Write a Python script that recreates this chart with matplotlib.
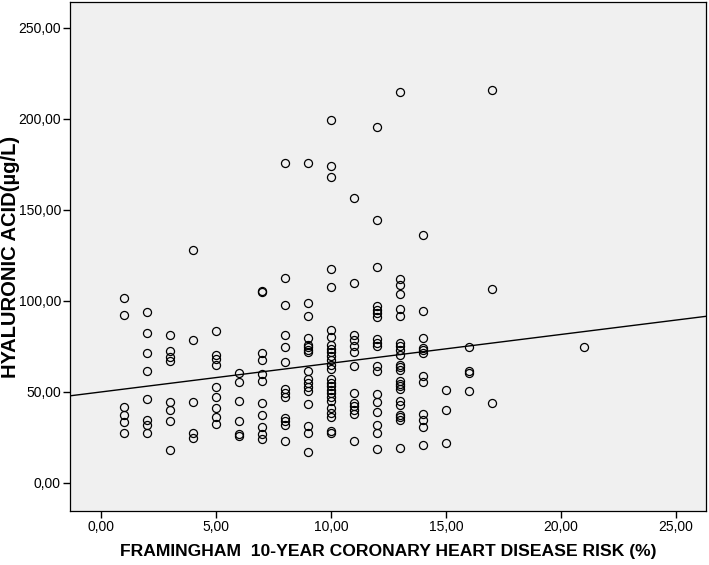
import matplotlib
matplotlib.use("Agg")
import matplotlib.pyplot as plt
import numpy as np

plt.rcParams['font.family'] = ['Liberation Sans', 'DejaVu Sans']

# risk (%) -> hyaluronic acid values, one list per risk value
risk_levels = [1, 2, 3, 4, 5, 6, 7, 8, 9, 10, 11, 12, 13, 14, 15, 16, 17, 21]
ha_values = [
    [101.7, 92.5, 41.5, 37.4, 33.4, 27.4],
    [93.8, 82.4, 71.4, 61.3, 46.3, 34.7, 31.6, 27.4],
    [81.5, 72.7, 69.0, 66.8, 44.4, 40.2, 34.1, 18.2],
    [127.9, 78.7, 44.4, 27.4, 24.6],
    [83.7, 70.5, 68.1, 64.6, 52.5, 47.5, 41.1, 36.2, 32.3],
    [60.4, 55.4, 45.2, 34.1, 26.8, 25.9],
    [105.7, 104.8, 71.4, 67.7, 59.9, 56.2, 44.2, 37.4, 31.0, 26.8, 24.2],
    [175.6, 112.7, 97.6, 81.5, 74.7, 66.5, 51.6, 49.7, 47.5, 35.6, 34.1, 31.9, 23.3],
    [175.6, 98.9, 91.6, 79.7, 76.0, 74.7, 73.2, 71.8, 61.3, 57.1, 54.9, 52.5, 50.3,
     43.3, 31.4, 27.4, 17.2],
    [199.5, 174.2, 168.3, 117.8, 107.8, 84.3, 80.0, 75.6, 73.6, 71.8, 69.6, 67.7,
     65.0, 62.6, 57.3, 54.9, 53.0, 51.2, 49.4, 47.5, 44.8, 41.1, 38.4, 36.5, 28.6, 27.7],
    [156.4, 110.0, 81.5, 78.4, 75.4, 71.8, 64.4, 49.4, 44.2, 42.4, 40.2, 37.8, 23.1],
    [195.7, 144.3, 118.8, 97.1, 95.3, 93.4, 91.2, 79.1, 76.9, 75.4, 64.4, 61.3,
     48.8, 44.5, 39.0, 32.0, 27.4, 18.7],
    [214.6, 111.8, 109.0, 103.9, 95.8, 91.6, 76.9, 75.1, 72.9, 70.5, 65.0, 63.7,
     62.2, 55.8, 54.5, 53.0, 51.6, 44.8, 43.0, 37.4, 36.2, 34.7, 19.1],
    [136.0, 94.7, 79.7, 74.2, 72.9, 71.4, 58.9, 55.2, 37.8, 34.7, 31.0, 20.9],
    [51.2, 40.2, 22.2],
    [74.5, 61.7, 60.4, 50.3],
    [215.9, 106.8, 44.2],
    [74.5],
]

# fit line as drawn in the chart
fit_intercept = 50.0
fit_slope = 1.58

x_ticks = [0, 5, 10, 15, 20, 25]
y_ticks = [0, 50, 100, 150, 200, 250]
x_label = "FRAMINGHAM  10-YEAR CORONARY HEART DISEASE RISK (%)"
y_label = "HYALURONIC ACID(µg/L)"

x = np.concatenate([[r] * len(v) for r, v in zip(risk_levels, ha_values)])
y = np.concatenate(ha_values)

fig = plt.figure(figsize=(7.09, 5.65), dpi=100)
ax = fig.add_axes([0.0987, 0.0956, 0.897, 0.901])
ax.set_facecolor('#f0f0f0')

ax.plot(x, y, 'o', ms=5.8, mfc='none', mec='black', mew=0.9, zorder=3)

xlim = (-1.35, 26.3)
xs = np.array(xlim)
ax.plot(xs, fit_intercept + fit_slope * xs, color='black', lw=1.0, zorder=2)

ax.set_xlim(*xlim)
ax.set_ylim(-15.4, 264.3)
ax.set_xticks(x_ticks)
ax.set_xticklabels([f"{t:.2f}".replace('.', ',') for t in x_ticks])
ax.set_yticks(y_ticks)
ax.set_yticklabels([f"{t:.2f}".replace('.', ',') for t in y_ticks])
ax.tick_params(length=5, width=1, color='black', labelsize=10, pad=1.5)
for s in ax.spines.values():
    s.set_linewidth(0.9)
    s.set_color('black')

ax.set_xlabel(x_label, fontsize=12.6, fontweight='bold', labelpad=7)
ax.set_ylabel(y_label, fontsize=14.5, fontweight='bold')
ax.yaxis.set_label_coords(-0.079, 0.5)

fig.savefig("out.png", dpi=100)
